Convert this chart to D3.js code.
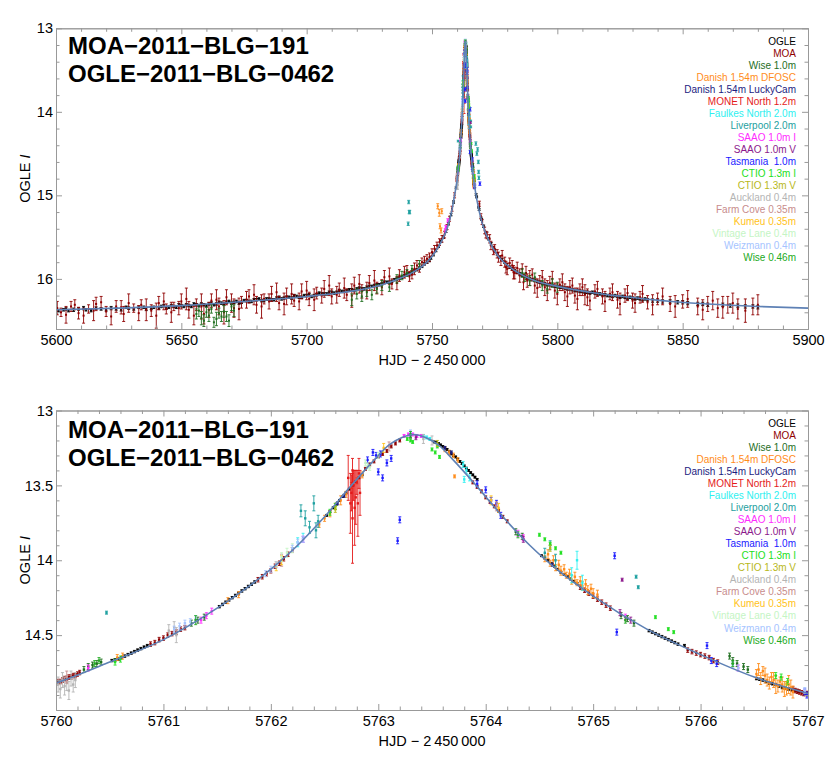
<!DOCTYPE html>
<html><head><meta charset="utf-8">
<script src="https://cdn.jsdelivr.net/npm/d3@7"></script>
<style>
body{margin:0;background:#fff}
svg{display:block;font-family:"Liberation Sans",Arial,sans-serif}
.leg{white-space:pre}
</style>
</head><body>
<svg id="c" width="830" height="771"></svg>
<script>
// ---------- DATA ----------
const seriesNames = ["OGLE","MOA","Wise 1.0m","Danish 1.54m DFOSC","Danish 1.54m LuckyCam","MONET North 1.2m","Faulkes North 2.0m","Liverpool 2.0m","SAAO 1.0m I","SAAO 1.0m V","Tasmania  1.0m","CTIO 1.3m I","CTIO 1.3m V","Auckland 0.4m","Farm Cove 0.35m","Kumeu 0.35m","Vintage Lane 0.4m","Weizmann 0.4m","Wise 0.46m"];
const seriesColors = ["#000000","#8f0000","#1e6e1e","#ff8c1a","#1c1c80","#e41a1a","#2ef0f0","#1ea0a0","#ff2bff","#8c1a8c","#1a1aff","#22e022","#b8b81a","#b4b4b4","#c88c8c","#ffc21a","#c4f5c4","#a6c4ff","#22aa22"];

// model light curve (HJD-2450000, OGLE I)
const modelT = [5600,5625,5650,5675,5700,5715,5725,5735,5743,5748,5751,5754,5756,5758,5759,5760,5760.5,5761,5761.5,5762,5762.25,5762.5,5762.75,5762.95,5763.1,5763.22,5763.33,5763.44,5763.56,5763.71,5763.91,5764.16,5764.41,5764.66,5765,5765.5,5766,5766.5,5767,5768,5770,5773,5777,5782,5790,5800,5815,5835,5860,5880,5900];
const modelM = [16.37,16.35,16.32,16.27,16.21,16.16,16.11,16.02,15.91,15.80,15.69,15.54,15.40,15.17,15.00,14.82,14.68,14.53,14.32,14.06,13.90,13.71,13.50,13.34,13.23,13.18,13.16,13.18,13.23,13.34,13.50,13.71,13.90,14.06,14.24,14.46,14.63,14.78,14.89,15.07,15.33,15.56,15.75,15.88,16.01,16.09,16.17,16.24,16.30,16.33,16.35];

// each point: [HJD-2450000, mag, error]
const ogleWings = [[5601,16.38,.015],[5603,16.37,.015],[5604,16.36,.015],[5605,16.38,.015],[5607,16.37,.02],[5609,16.36,.015],[5611,16.35,.02],[5612,16.37,.015],[5614,16.38,.015],[5616,16.35,.015],[5618,16.36,.015],[5620,16.37,.015],[5622,16.35,.02],[5624,16.36,.015],[5626,16.37,.015],[5628,16.34,.015],[5629,16.35,.015],[5631,16.36,.015],[5633,16.34,.015],[5635,16.34,.015],[5636,16.36,.02],[5638,16.35,.015],[5639,16.34,.015],[5641,16.35,.015],[5642,16.33,.015],[5643,16.32,.015],[5644,16.35,.015],[5645,16.34,.015],[5646,16.32,.015],[5647,16.33,.015],[5648,16.34,.015],[5649,16.31,.015],[5650,16.32,.015],[5651,16.33,.015],[5652,16.31,.015],[5653,16.32,.015],[5654,16.33,.015],[5655,16.30,.015],[5656,16.31,.015],[5657,16.32,.015],[5658,16.30,.015],[5659,16.31,.015],[5660,16.32,.015],[5661,16.30,.015],[5662,16.29,.015],[5663,16.31,.015],[5664,16.30,.015],[5665,16.28,.015],[5666,16.29,.015],[5667,16.30,.015],[5668,16.28,.015],[5669,16.27,.015],[5670,16.29,.015],[5671,16.28,.015],[5672,16.27,.015],[5673,16.29,.015],[5674,16.28,.015],[5675,16.26,.015],[5676,16.26,.015],[5677,16.27,.015],[5678,16.27,.015],[5679,16.25,.015],[5680,16.25,.015],[5681,16.24,.015],[5682,16.26,.015],[5683,16.26,.015],[5684,16.24,.015],[5685,16.24,.015],[5686,16.25,.015],[5687,16.25,.015],[5688,16.23,.015],[5689,16.22,.015],[5690,16.24,.015],[5691,16.23,.015],[5692,16.22,.015],[5693,16.22,.015],[5694,16.23,.015],[5695,16.20,.015],[5696,16.21,.015],[5697,16.22,.015],[5698,16.22,.015],[5699,16.20,.015],[5700,16.20,.015],[5701,16.19,.015],[5702,16.21,.015],[5703,16.20,.015],[5704,16.19,.015],[5705,16.17,.015],[5706,16.18,.015],[5707,16.18,.015],[5708,16.18,.015],[5709,16.16,.015],[5710,16.16,.015],[5711,16.17,.015],[5712,16.16,.015],[5713,16.14,.015],[5714,16.15,.015],[5715,16.15,.015],[5716,16.14,.015],[5717,16.13,.015],[5718,16.13,.015],[5719,16.14,.015],[5720,16.12,.015],[5721,16.11,.015],[5722,16.12,.015],[5723,16.12,.015],[5724,16.10,.015],[5725,16.09,.015],[5726,16.09,.015],[5727,16.08,.015],[5728,16.07,.015],[5729,16.07,.015],[5730,16.06,.015],[5731,16.04,.015],[5732,16.04,.015],[5733,16.04,.015],[5734,16.03,.015],[5735,16.01,.015],[5736,16.00,.015],[5737,15.99,.015],[5738,15.98,.015],[5739,15.96,.015],[5740,15.95,.015],[5741,15.94,.015],[5742,15.92,.015],[5743,15.90,.015],[5744,15.89,.015],[5745,15.87,.015],[5746,15.85,.015],[5747,15.82,.015],[5748,15.80,.015],[5749,15.78,.015],[5749.6,15.75,.015],[5750.6,15.71,.015],[5751.6,15.66,.015],[5752.6,15.61,.015],[5753.6,15.55,.015],[5754.6,15.50,.015],[5755.6,15.43,.015],[5756.6,15.34,.015],[5757.6,15.23,.015],[5758.6,15.08,.015],[5759.6,14.91,.01],
[5767.6,14.99,.01],[5767.8,15.02,.01],[5768.6,15.14,.01],[5768.8,15.17,.01],[5769.6,15.27,.01],[5769.8,15.29,.01],[5770.6,15.37,.015],[5771.6,15.45,.015],[5772.6,15.52,.015],[5773.6,15.58,.015],[5774.6,15.63,.015],[5775,15.66,.015],[5776,15.70,.015],[5777,15.74,.015],[5778,15.77,.015],[5779,15.80,.015],[5780,15.83,.015],[5781,15.86,.015],[5782,15.88,.015],[5783,15.90,.015],[5784,15.92,.015],[5785,15.94,.015],[5786,15.96,.015],[5787,15.97,.015],[5788,15.99,.015],[5789,16.00,.015],[5790,16.01,.015],[5791,16.02,.015],[5792,16.03,.015],[5793,16.04,.015],[5794,16.05,.015],[5795,16.06,.015],[5796,16.07,.015],[5797,16.07,.015],[5798,16.08,.015],[5799,16.09,.015],[5800,16.09,.015],[5801,16.10,.015],[5802,16.10,.015],[5803,16.11,.015],[5804,16.12,.015],[5805,16.12,.015],[5806,16.13,.015],[5807,16.14,.015],[5808,16.14,.015],[5809,16.15,.015],[5810,16.15,.015],[5811,16.16,.015],[5812,16.16,.015],[5813,16.17,.015],[5814,16.16,.015],[5815,16.17,.015],[5816,16.18,.015],[5817,16.18,.015],[5818,16.19,.015],[5819,16.19,.015],[5820,16.20,.015],[5821,16.20,.015],[5822,16.21,.015],[5823,16.20,.015],[5824,16.21,.015],[5825,16.22,.015],[5826,16.21,.015],[5827,16.22,.015],[5828,16.23,.015],[5829,16.22,.015],[5830,16.23,.015],[5831,16.24,.015],[5832,16.23,.015],[5833,16.24,.015],[5834,16.25,.015],[5835,16.24,.015],[5836,16.25,.015],[5838,16.26,.02],[5840,16.26,.02],[5842,16.27,.02],[5845,16.27,.02],[5848,16.28,.02],[5850,16.28,.02],[5852,16.29,.02],[5856,16.30,.02],[5858,16.30,.02],[5860,16.31,.02],[5866,16.31,.02],[5869,16.32,.02],[5872,16.32,.02],[5875,16.33,.02],[5878,16.33,.02],[5880,16.34,.02]];

const oglePeak = [[5760.52,14.67,.008],[5760.55,14.665,.008],[5760.58,14.66,.008],[5760.61,14.65,.008],[5760.64,14.64,.008],[5760.67,14.63,.008],[5760.70,14.62,.008],[5760.73,14.61,.008],[5760.76,14.60,.008],[5760.79,14.59,.008],[5760.82,14.58,.008],[5760.85,14.57,.008],
[5761.52,14.31,.008],[5761.55,14.295,.008],[5761.58,14.28,.008],[5761.61,14.265,.008],[5761.64,14.25,.008],[5761.67,14.235,.008],[5761.70,14.22,.008],[5761.73,14.205,.008],[5761.76,14.19,.008],[5761.79,14.175,.008],[5761.82,14.16,.008],[5761.85,14.145,.008],
[5762.52,13.70,.006],[5762.55,13.675,.006],[5762.58,13.65,.006],[5762.61,13.625,.006],[5762.64,13.60,.006],[5762.67,13.575,.006],[5762.70,13.55,.006],[5762.73,13.525,.006],[5762.76,13.50,.006],[5762.79,13.475,.006],[5762.82,13.45,.006],[5762.85,13.43,.006],
[5763.52,13.21,.006],[5763.54,13.215,.006],[5763.56,13.22,.006],[5763.58,13.23,.006],[5763.60,13.24,.006],[5763.62,13.25,.006],[5763.64,13.26,.006],[5763.66,13.275,.006],[5763.68,13.29,.006],[5763.70,13.30,.006],[5763.72,13.31,.006],[5763.74,13.325,.006],[5763.76,13.34,.006],[5763.78,13.355,.006],[5763.80,13.37,.006],[5763.82,13.385,.006],[5763.84,13.40,.006],[5763.86,13.415,.006],[5763.88,13.43,.006],[5763.90,13.445,.006],[5763.92,13.46,.006],
[5764.52,13.97,.006],[5764.55,13.985,.006],[5764.58,14.00,.006],[5764.61,14.02,.006],[5764.64,14.04,.006],[5764.67,14.06,.006],[5764.70,14.08,.006],[5764.73,14.095,.006],[5764.76,14.11,.006],[5764.79,14.125,.006],[5764.82,14.14,.006],[5764.85,14.155,.006],
[5765.52,14.47,.008],[5765.55,14.48,.008],[5765.58,14.49,.008],[5765.61,14.50,.008],[5765.64,14.51,.008],[5765.67,14.52,.008],[5765.70,14.53,.008],[5765.73,14.54,.008],[5765.76,14.55,.008],[5765.79,14.56,.008],[5765.85,14.57,.008],
[5766.52,14.79,.008],[5766.55,14.795,.008],[5766.58,14.80,.008],[5766.61,14.81,.008],[5766.64,14.82,.008],[5766.67,14.825,.008],[5766.70,14.83,.008],[5766.73,14.84,.008],[5766.76,14.85,.008],[5766.79,14.855,.008],[5766.82,14.86,.008],[5766.85,14.865,.008],[5766.88,14.87,.008],[5766.91,14.875,.008]];

const moaWings = [[5600.5,16.35,.08],[5602,16.40,.05],[5604,16.43,.1],[5606,16.33,.06],[5607.5,16.31,.06],[5609,16.41,.07],[5611,16.44,.09],[5613,16.36,.05],[5615,16.38,.12],[5616,16.30,.08],[5618,16.28,.07],[5620,16.39,.06],[5622,16.45,.1],[5624,16.33,.07],[5626,16.34,.08],[5627,16.42,.09],[5629,16.29,.11],[5631,16.35,.05],[5633,16.41,.09],[5634,16.31,.06],[5636,16.37,.13],[5638,16.38,.07],[5640,16.44,.15],[5641,16.29,.08],[5643,16.27,.1],[5644,16.36,.06],[5646,16.40,.12],[5647,16.33,.05],[5649,16.35,.08],[5650,16.27,.09],[5652,16.24,.13],[5653,16.37,.1],[5655,16.44,.11],[5656,16.31,.07],[5658,16.33,.15],[5659,16.42,.12],[5661,16.37,.09],[5662,16.26,.08],[5664,16.25,.12],[5665,16.33,.1],[5667,16.40,.14],[5668,16.22,.09],[5670,16.29,.11],[5671,16.35,.11],[5673,16.36,.13],[5674,16.28,.07],[5676,16.25,.1],[5677,16.21,.08],[5679,16.19,.12],[5680,16.31,.1],[5682,16.33,.14],[5683,16.24,.06],[5685,16.27,.09],[5686,16.18,.09],[5688,16.16,.11],[5689,16.29,.08],[5691,16.30,.13],[5692,16.21,.1],[5694,16.18,.12],[5695,16.26,.07],[5697,16.27,.1],[5698,16.15,.09],[5700,16.14,.11],[5701,16.24,.08],[5703,16.25,.13],[5704,16.17,.07],[5706,16.20,.09],[5707,16.12,.1],[5709,16.08,.12],[5710,16.21,.09],[5712,16.19,.1],[5713,16.13,.08],[5715,16.11,.12],[5716,16.19,.07],[5718,16.20,.14],[5719,16.08,.1],[5721,16.06,.11],[5722,16.15,.08],[5724,16.14,.1],[5725,16.05,.09],[5727,16.02,.12],[5728,16.11,.07],[5730,16.10,.09],[5731,15.98,.08],[5733,15.97,.1],[5734,16.06,.06],[5736,16.05,.08],[5737,15.96,.07],[5739,15.92,.07],[5740,15.90,.06],[5741,15.97,.06],[5742,15.95,.05],[5743,15.88,.07],[5744,15.84,.06],[5745,15.87,.05],[5746,15.80,.05],[5747,15.78,.05],[5748,15.76,.05],[5749,15.74,.05],[5750,15.68,.04],[5751,15.64,.04],[5752,15.60,.04],[5753,15.56,.04],[5754,15.52,.04],[5755,15.47,.04],[5756,15.38,.03],[5757,15.28,.03],[5758,15.16,.03],[5759,15.00,.03],
[5768.9,15.10,.03],[5769.5,15.25,.03],[5770,15.32,.03],[5771,15.42,.04],[5771.5,15.47,.04],[5772,15.48,.04],[5773,15.52,.05],[5773.5,15.60,.05],[5774.5,15.66,.05],[5775,15.64,.05],[5776,15.70,.05],[5776.5,15.74,.06],[5777.5,15.78,.06],[5778,15.72,.06],[5779,15.80,.06],[5779.5,15.86,.07],[5780,15.88,.07],[5781,15.81,.06],[5782,15.84,.06],[5782.5,15.92,.08],[5783,15.93,.07],[5784,15.87,.07],[5785,15.96,.08],[5786,15.88,.06],[5786.5,16.04,.09],[5787.5,15.93,.08],[5788,16.02,.08],[5789,15.99,.09],[5790,15.95,.07],[5791,16.08,.09],[5792,16.11,.11],[5793,16.03,.07],[5794,15.98,.08],[5795,16.10,.1],[5796,16.14,.12],[5797,16.05,.08],[5798,16.00,.09],[5799,16.14,.09],[5800,16.18,.13],[5801,16.07,.07],[5802,16.04,.1],[5803,16.16,.1],[5804,16.21,.12],[5805,16.10,.08],[5806,16.08,.09],[5807,16.20,.09],[5808,16.24,.13],[5809,16.13,.07],[5810,16.10,.1],[5811,16.19,.12],[5812,16.22,.1],[5813,16.26,.11],[5815,16.15,.08],[5816,16.12,.09],[5818,16.21,.09],[5819,16.27,.12],[5821,16.18,.07],[5822,16.16,.1],[5824,16.25,.1],[5825,16.30,.13],[5827,16.20,.08],[5828,16.17,.09],[5830,16.26,.09],[5831,16.29,.11],[5833,16.22,.07],[5834,16.18,.1],[5836,16.28,.08],[5838,16.31,.12],[5840,16.24,.07],[5842,16.21,.1],[5845,16.30,.09],[5847,16.33,.13],[5850,16.27,.08],[5852,16.24,.1],[5856,16.33,.1],[5858,16.37,.12],[5860,16.30,.09],[5862,16.26,.11],[5864,16.35,.11],[5866,16.34,.13],[5868,16.31,.1],[5870,16.29,.12],[5872,16.36,.12],[5875,16.38,.14],[5878,16.33,.1],[5880,16.31,.12]];

const moaPeak = [[5760.00,14.82,.015],[5760.02,14.81,.015],[5760.04,14.81,.015],[5760.06,14.80,.015],[5760.08,14.79,.015],[5760.10,14.79,.015],[5760.12,14.78,.015],[5760.14,14.78,.015],[5760.16,14.77,.015],[5760.18,14.77,.015],[5760.20,14.76,.015],[5760.22,14.75,.015],
[5760.88,14.56,.015],[5760.92,14.55,.015],[5760.96,14.53,.015],[5761.00,14.52,.015],[5761.04,14.50,.015],[5761.08,14.49,.015],[5761.12,14.48,.015],[5761.16,14.46,.015],[5761.20,14.45,.015],
[5761.88,14.13,.015],[5761.92,14.11,.015],[5761.96,14.09,.015],[5762.00,14.07,.015],[5762.04,14.04,.015],[5762.08,14.02,.015],[5762.12,13.99,.015],[5762.16,13.96,.015],[5762.20,13.93,.015],
[5762.88,13.39,.01],[5762.92,13.36,.01],[5762.96,13.34,.01],[5763.00,13.31,.01],[5763.04,13.29,.01],[5763.08,13.27,.01],[5763.12,13.24,.01],[5763.16,13.22,.01],[5763.20,13.20,.01],
[5763.88,13.48,.01],[5763.92,13.51,.01],[5763.96,13.54,.01],[5764.00,13.58,.01],[5764.04,13.61,.01],[5764.08,13.64,.01],[5764.12,13.67,.01],[5764.16,13.71,.01],[5764.20,13.74,.01],
[5764.88,14.18,.015],[5764.92,14.20,.015],[5764.96,14.22,.015],[5765.00,14.24,.015],[5765.04,14.26,.015],[5765.08,14.28,.015],[5765.12,14.30,.015],[5765.16,14.32,.015],
[5765.88,14.60,.015],[5765.92,14.61,.015],[5765.96,14.62,.015],[5766.00,14.63,.015],[5766.04,14.64,.015],[5766.08,14.65,.015],[5766.12,14.67,.015],[5766.16,14.68,.015],
[5766.86,14.86,.015],[5766.88,14.87,.015],[5766.90,14.875,.015],[5766.92,14.88,.015],[5766.94,14.885,.015],[5766.96,14.89,.015],[5766.98,14.89,.015],[5767.00,14.89,.015]];

const wise10 = [[5656,16.42,.06],[5657,16.38,.07],[5658,16.47,.08],[5659,16.50,.07],[5660,16.40,.06],[5661,16.44,.07],[5662,16.36,.05],[5663,16.52,.06],[5664,16.48,.08],[5665,16.41,.06],[5666,16.45,.06],[5667,16.39,.07],[5668,16.45,.06],[5669,16.50,.07],[5670,16.33,.05],[5671,16.38,.07],[5718,16.25,.07],[5720,16.18,.06],[5722,16.21,.06],[5724,16.16,.05],[5726,16.19,.06],[5728,16.12,.05],[5730,16.08,.06],[5733,16.10,.05],[5736,16.00,.05],[5738,15.96,.05],[5740,15.93,.04],[5742,15.88,.04],[5745,15.82,.04],[5786,15.93,.05],[5787,15.98,.05],[5789,16.02,.06],[5791,15.98,.05],[5794,16.08,.06],[5796,16.12,.05],[5798,16.05,.05],[5800,16.10,.06],
[5760.26,14.73,.02],[5760.30,14.71,.02],[5760.34,14.70,.02],[5760.38,14.69,.02],[5760.42,14.68,.02],[5761.26,14.42,.02],[5761.32,14.40,.02],[5761.38,14.38,.02],[5764.28,13.81,.02],[5764.34,13.84,.02],[5765.26,14.37,.02],[5765.32,14.39,.02],[5765.38,14.42,.02],[5766.27,14.64,.02],[5766.30,14.67,.02],[5766.34,14.69,.02],[5766.40,14.71,.02],[5766.44,14.73,.02]];

const danishD = [[5752.3,15.13,.03],[5752.9,15.21,.04],[5753.2,15.37,.03],[5753.6,15.42,.03],[5753.9,15.19,.03],
[5760.57,14.65,.02],[5760.62,14.64,.02],[5761.60,14.27,.02],[5761.70,14.23,.02],
[5762.45,13.76,.02],[5762.50,13.72,.02],[5762.55,13.69,.02],[5762.60,13.64,.02],[5762.65,13.60,.03],[5762.70,13.56,.02],[5762.75,13.50,.02],[5762.80,13.47,.02],[5762.85,13.43,.02],
[5763.62,13.26,.015],[5763.66,13.28,.015],[5763.70,13.30,.015],[5763.74,13.33,.015],[5763.71,13.44,.01],
[5764.55,13.99,.02],[5764.58,13.96,.03],[5764.60,14.02,.02],[5764.63,14.00,.03],[5764.65,14.05,.02],[5764.68,14.03,.03],[5764.70,14.07,.03],[5764.73,14.06,.03],[5764.75,14.10,.02],[5764.78,14.09,.03],[5764.80,14.13,.03],[5764.83,14.11,.03],[5764.85,14.15,.02],[5764.88,14.14,.03],[5764.90,14.17,.03],[5764.93,14.16,.03],[5764.95,14.20,.03],[5764.98,14.19,.03],[5765.00,14.22,.03],[5765.04,14.23,.03],
[5766.52,14.76,.03],[5766.54,14.73,.04],[5766.56,14.79,.04],[5766.58,14.74,.03],[5766.60,14.77,.05],[5766.62,14.80,.04],[5766.64,14.82,.04],[5766.66,14.78,.03],[5766.68,14.80,.05],[5766.70,14.83,.06],[5766.72,14.84,.04],[5766.74,14.81,.03],[5766.76,14.83,.05],[5766.78,14.86,.05],[5766.80,14.86,.04],[5766.82,14.83,.06],[5766.84,14.85,.05],[5766.86,14.88,.04]];

const danishL = [[5762.62,13.62,.01],[5762.68,13.57,.01],[5763.62,13.25,.01],[5763.68,13.28,.01],[5764.62,14.03,.01]];

const monet = [[5762.72,13.45,.15],[5762.74,13.62,.2],[5762.75,13.55,.12],[5762.76,13.72,.3],[5762.77,13.50,.1],[5762.78,13.65,.25],[5762.79,13.58,.18],[5762.80,13.48,.08],[5762.81,13.62,.22],[5762.82,13.42,.1],[5762.83,13.55,.15],[5762.76,13.40,.08]];

const faulkes = [[5762.25,13.88,.03],[5762.30,13.85,.03],[5763.42,13.17,.01],[5763.45,13.18,.01],[5763.48,13.19,.01],[5763.79,13.36,.02],[5763.82,13.40,.02],[5763.85,13.45,.02],[5763.80,13.46,.02],[5764.80,14.10,.05],[5764.85,14.00,.06],[5764.90,14.15,.05]];

const liverpool = [[5740.5,15.34,.02],[5740.7,15.08,.02],[5740.9,15.20,.02],[5741.1,15.20,.02],[5767.5,14.38,.02],[5767.9,14.50,.02],[5768.2,14.45,.02],[5768.5,14.60,.02],[5768.6,14.72,.02],[5768.7,14.79,.02],
[5760.47,14.35,.01],[5762.28,13.67,.04],[5762.32,13.72,.05],[5762.36,13.78,.04],[5762.40,13.62,.05],[5762.42,13.80,.05],[5762.44,13.74,.04],[5764.55,13.95,.03],[5764.60,13.90,.03],[5764.65,14.00,.04],[5765.40,14.11,.01],[5765.42,14.18,.01]];

const saaoI = [[5755.3,15.42,.02],[5755.5,15.38,.02],[5756.3,15.30,.02],[5760.30,14.72,.02],[5761.35,14.40,.02],[5761.40,14.37,.02],[5761.45,14.34,.02],[5762.30,13.86,.02],[5763.24,13.17,.01],[5763.28,13.16,.01],[5763.32,13.16,.01],[5763.36,13.17,.01],[5763.40,13.17,.01],[5764.30,13.82,.02],[5764.35,13.85,.02],[5765.30,14.38,.02],[5766.35,14.72,.02]];

const saaoV = [[5763.30,13.17,.015],[5763.35,13.18,.015],[5764.35,13.86,.02],[5765.25,14.35,.02],[5765.27,14.13,.01],[5765.35,14.40,.02]];

const tasmania = [[5762.90,13.33,.02],[5762.95,13.28,.02],[5762.98,13.30,.02],[5763.00,13.41,.02],[5763.02,13.29,.02],[5763.04,13.45,.02],[5763.08,13.35,.02],[5763.12,13.32,.02],[5763.18,13.87,.02],[5763.20,13.73,.02],[5763.92,13.49,.02],[5764.00,13.53,.02],[5764.05,13.60,.02],[5764.10,13.62,.02],[5764.14,13.70,.02],[5765.20,13.97,.02],[5765.22,14.48,.02],[5766.06,14.57,.02],[5766.10,14.67,.02],[5766.15,14.69,.02],[5766.97,14.88,.02],[5766.99,14.90,.02],[5769.1,14.86,.02]];

const ctioI = [[5760.55,14.68,.02],[5760.60,14.66,.02],[5762.55,13.68,.02],[5762.60,13.64,.02],[5763.27,13.19,.01],[5763.30,13.20,.01],[5763.32,13.21,.01],[5763.50,13.26,.01],[5763.53,13.28,.01],[5763.55,13.24,.01],[5763.57,13.31,.01],[5764.50,13.83,.01],[5764.55,13.86,.01],[5764.60,13.89,.01],[5764.65,13.92,.01],[5764.70,13.95,.01],[5765.58,14.38,.01],[5765.70,14.46,.01],[5765.75,14.48,.01],[5766.70,14.77,.02],[5766.75,14.78,.02],[5766.81,14.81,.02]];

const ctioV = [[5762.60,13.66,.02],[5763.55,13.22,.02],[5764.60,13.92,.02],[5766.80,14.83,.02]];

const auckland = [[5760.02,14.83,.05],[5760.04,14.86,.06],[5760.06,14.80,.05],[5760.08,14.84,.06],[5760.10,14.82,.05],[5760.12,14.87,.06],[5760.14,14.79,.05],[5760.16,14.83,.05],[5760.18,14.80,.05],[5761.05,14.47,.04],[5761.10,14.45,.04],[5761.12,14.50,.05],[5763.42,13.19,.03],[5763.50,13.20,.03]];

const farmCove = [[5760.10,14.78,.04],[5762.10,14.00,.04],[5763.10,13.24,.03],[5764.10,13.64,.03]];

const kumeu = [[5762.05,14.04,.03],[5762.10,14.00,.03],[5763.05,13.25,.03],[5764.05,13.60,.03],[5764.12,13.65,.03]];

const vintage = [[5762.10,13.98,.03],[5762.15,13.95,.03],[5762.20,13.92,.03],[5762.88,13.35,.02],[5762.90,13.37,.02],[5762.92,13.38,.02],[5763.00,13.30,.02]];

const weizmann = [[5761.10,14.46,.02],[5761.15,14.44,.02],[5761.20,14.42,.02],[5761.25,14.41,.02],[5761.30,14.39,.02],[5761.95,14.09,.02],[5762.00,14.06,.02],[5762.05,14.03,.02],[5762.20,13.92,.02],[5762.25,13.88,.02],[5762.30,13.86,.02],[5763.30,13.15,.02],[5766.30,14.70,.02],[5766.35,14.72,.02],[5766.97,14.87,.02]];

const wise046 = [[5760.36,14.69,.02],[5760.40,14.67,.02],[5761.30,14.40,.03],[5763.30,13.16,.02],[5764.30,13.83,.02],[5765.30,14.40,.02],[5766.30,14.69,.02]];

const allSeries = [ogleWings.concat(oglePeak),moaWings.concat(moaPeak),wise10,danishD,danishL,monet,faulkes,liverpool,saaoI,saaoV,tasmania,ctioI,ctioV,auckland,farmCove,kumeu,vintage,weizmann,wise046];

// ---------- LAYOUT ----------
const panels = [
  {xd:[5600,5900], yd:[13,16.6], top:28.3, bottom:329, xMaj:50, xMin:10, yMaj:1, yMin:0.2, legY:41.7, legStep:12, titleY:[54,82], xTitleY:365, ms:2},
  {xd:[5760,5767], yd:[13,15], top:410.5, bottom:710, xMaj:1, xMin:0.2, yMaj:0.5, yMin:0.1, legY:423, legStep:12.06, titleY:[438,466], xTitleY:746, ms:2.4}
];
const L = 56, R = 808;
const frameCol = "#999";
const svg = d3.select("#c");

function rangeStep(a,b,s){const n=Math.round((b-a)/s);return d3.range(n+1).map(i=>+(a+i*s).toFixed(6));}

panels.forEach((p,pi)=>{
  const x = d3.scaleLinear().domain(p.xd).range([L,R]);
  const y = d3.scaleLinear().domain(p.yd).range([p.top,p.bottom]);
  const g = svg.append("g");
  const cid = "clip"+pi;
  svg.append("clipPath").attr("id",cid).append("rect").attr("x",L).attr("y",p.top).attr("width",R-L).attr("height",p.bottom-p.top);

  const dg = g.append("g").attr("clip-path",`url(#${cid})`);
  allSeries.forEach((s,si)=>{
    const col = seriesColors[si];
    const pts = s.filter(d=>d[0]>=p.xd[0]-1 && d[0]<=p.xd[1]+1);
    const sg = dg.append("g").attr("stroke",col).attr("fill",col).attr("stroke-width",0.9);
    sg.selectAll("path.eb").data(pts).join("path").attr("class","eb")
      .attr("d",d=>{const xx=x(d[0]),y1=y(d[1]-d[2]),y2=y(d[1]+d[2]);return `M${xx},${y1}V${y2}M${xx-1.5},${y1}H${xx+1.5}M${xx-1.5},${y2}H${xx+1.5}`;})
      .attr("fill","none");
    sg.selectAll("rect").data(pts).join("rect")
      .attr("x",d=>x(d[0])-p.ms/2).attr("y",d=>y(d[1])-p.ms/2).attr("width",p.ms).attr("height",p.ms).attr("stroke","none");
  });
  const line = d3.line().x((d,i)=>x(modelT[i])).y((d,i)=>y(modelM[i])).curve(d3.curveMonotoneX);
  dg.append("path").datum(modelT).attr("d",line).attr("fill","none").attr("stroke","#5E81B5").attr("stroke-width",1.6);

  const xMaj = rangeStep(p.xd[0],p.xd[1],p.xMaj), xMin = rangeStep(p.xd[0],p.xd[1],p.xMin).filter(v=>!xMaj.some(m=>Math.abs(m-v)<1e-6));
  const yMaj = rangeStep(p.yd[0],p.yd[1],p.yMaj), yMin = rangeStep(p.yd[0],p.yd[1],p.yMin).filter(v=>!yMaj.some(m=>Math.abs(m-v)<1e-6));
  const yLab = yMaj.filter(v=>v<p.yd[1]-1e-6);
  function styleAx(sel){sel.select(".domain").attr("stroke",frameCol);sel.selectAll(".tick line").attr("stroke",frameCol);sel.selectAll("text").attr("fill","#000").attr("font-size","14.5px").attr("font-family","Liberation Sans, Arial, sans-serif");}
  const ax = [
    [d3.axisBottom(x).tickValues(xMaj).tickSize(-6).tickSizeOuter(0).tickPadding(6).tickFormat(d3.format("d")), `translate(0,${p.bottom})`],
    [d3.axisBottom(x).tickValues(xMin).tickSize(-3.5).tickSizeOuter(0).tickFormat(""), `translate(0,${p.bottom})`],
    [d3.axisTop(x).tickValues(xMaj).tickSize(-6).tickSizeOuter(0).tickFormat(""), `translate(0,${p.top})`],
    [d3.axisTop(x).tickValues(xMin).tickSize(-3.5).tickSizeOuter(0).tickFormat(""), `translate(0,${p.top})`],
    [d3.axisLeft(y).tickValues(yLab).tickSize(-6).tickSizeOuter(0).tickPadding(3).tickFormat(d=>String(d)), `translate(${L},0)`],
    [d3.axisLeft(y).tickValues(yMin).tickSize(-3.5).tickSizeOuter(0).tickFormat(""), `translate(${L},0)`],
    [d3.axisRight(y).tickValues(yLab).tickSize(-6).tickSizeOuter(0).tickFormat(""), `translate(${R},0)`],
    [d3.axisRight(y).tickValues(yMin).tickSize(-3.5).tickSizeOuter(0).tickFormat(""), `translate(${R},0)`]
  ];
  ax.forEach(([a,t])=>g.append("g").attr("transform",t).call(a).call(styleAx));

  g.append("text").attr("x",(L+R)/2).attr("y",p.xTitleY).attr("text-anchor","middle").attr("font-size","14.5px").text("HJD − 2\u2009450\u2009000");
  const yt = g.append("text").attr("transform",`translate(30,${(p.top+p.bottom)/2}) rotate(-90)`).attr("text-anchor","middle").attr("font-size","14.5px");
  yt.append("tspan").text("OGLE ");
  yt.append("tspan").attr("font-style","italic").text("I");

  ["MOA−2011−BLG−191","OGLE−2011−BLG−0462"].forEach((t,i)=>{
    g.append("text").attr("x",68).attr("y",p.titleY[i]).attr("font-size","24px").attr("font-weight","bold").text(t);
  });

  seriesNames.forEach((n,i)=>{
    g.append("text").attr("class","leg").attr("x",796).attr("y",p.legY+i*p.legStep+3.5).attr("text-anchor","end").attr("font-size","10px").attr("fill",seriesColors[i]).text(n);
  });
});
</script>
</body></html>
